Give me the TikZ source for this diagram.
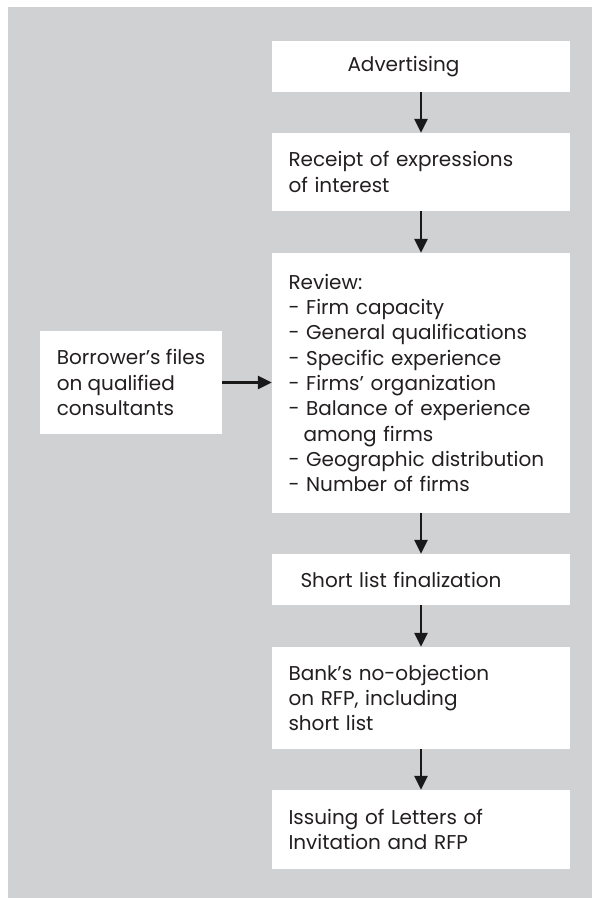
\documentclass[tikz,border=0pt]{standalone}
\usepackage{fontspec}
\setmainfont{Poppins}
\usetikzlibrary{arrows.meta}
\definecolor{bggray}{RGB}{208,209,211}
\definecolor{txtgray}{RGB}{35,31,32}
\begin{document}
\begin{tikzpicture}[x=1pt,y=-1pt,
  stepbox/.style={fill=white, draw=none, inner xsep=16.5pt, inner ysep=0pt,
    text width=265pt, align=left, minimum height=#1,
    font=\fontsize{20}{25.3}\selectfont, text=txtgray},
  sidebox/.style={fill=white, draw=none, inner xsep=0pt, inner ysep=0pt,
    minimum width=182pt, align=left, minimum height=#1,
    font=\fontsize{20}{25.3}\selectfont, text=txtgray},
  arr/.style={line width=2.6pt, draw=black!90, -{Triangle[width=13pt,length=14pt]}, shorten >=0pt}]
\useasboundingbox (0,0) rectangle (592,898);
\fill[bggray] (8,7) rectangle (592,898);
\node[stepbox=51pt] (adv) at (421,66.5) {\hspace*{59pt}Advertising};
\node[stepbox=78pt] (rec) at (421,172) {Receipt of expressions\\of interest};
\node[stepbox=260pt] (rev) at (421,383) {Review:\\- Firm capacity\\- General qualifications\\- Specific experience\\- Firms’ organization\\- Balance of experience\\\hspace*{15pt}among firms\\- Geographic distribution\\- Number of firms};
\node[sidebox=103pt] (bor) at (131,382.5) {Borrower’s files\\on qualified\\consultants};
\node[stepbox=51pt] (sl) at (421,579.5) {\hspace*{12pt}Short list finalization};
\node[stepbox=102pt] (bank) at (421,698) {Bank’s no-objection\\on RFP, including\\short list};
\node[stepbox=79pt] (iss) at (421,829.5) {Issuing of Letters of\\Invitation and RFP};
\draw[arr] (adv.south) -- (rec.north);
\draw[arr] (rec.south) -- (rev.north);
\draw[arr] (bor.east) -- (bor.east -| rev.west);
\draw[arr] (rev.south) -- (sl.north);
\draw[arr] (sl.south) -- (bank.north);
\draw[arr] (bank.south) -- (iss.north);
\end{tikzpicture}
\end{document}
